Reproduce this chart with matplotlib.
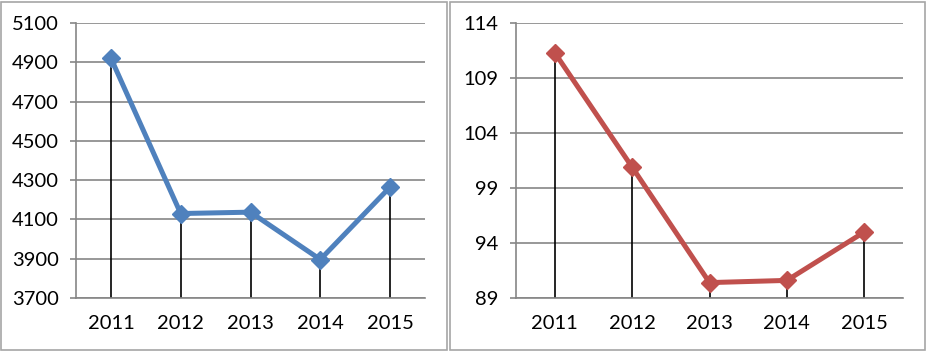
import matplotlib.pyplot as plt
from matplotlib.patches import Rectangle

years = ['2011', '2012', '2013', '2014', '2015']
left_vals = [4921, 4130, 4137, 3896, 4265]
right_vals = [111.3, 100.9, 90.4, 90.6, 95.0]

left_ticks = [3700, 3900, 4100, 4300, 4500, 4700, 4900, 5100]
right_ticks = [89, 94, 99, 104, 109, 114]

plt.rcParams['font.family'] = ['Lato', 'DejaVu Sans']

fig = plt.figure(figsize=(9.27, 3.51), dpi=100)

# panel borders
fig.patches.append(Rectangle((0.5/927, 1/351), 446/927, 348/351, transform=fig.transFigure,
                             fill=False, edgecolor='#a6a6a6', lw=1.2))
fig.patches.append(Rectangle((450/927, 1/351), 475/927, 348/351, transform=fig.transFigure,
                             fill=False, edgecolor='#a6a6a6', lw=1.2))

grid_c = '#868686'


def draw(rect, vals, ticks, color):
    ax = fig.add_axes(rect)
    x = list(range(len(years)))
    ax.set_xlim(-0.5, len(years) - 0.5)
    ax.set_ylim(ticks[0], ticks[-1])
    ax.set_yticks(ticks)
    ax.set_xticks(x)
    ax.set_xticklabels(years)
    ax.yaxis.grid(True, color=grid_c, lw=1.2)
    ax.set_axisbelow(True)
    for s in ['top', 'right']:
        ax.spines[s].set_visible(False)
    ax.spines['left'].set_color(grid_c)
    ax.spines['bottom'].set_color(grid_c)
    ax.spines['left'].set_linewidth(1.2)
    ax.spines['bottom'].set_linewidth(1.2)
    ax.tick_params(axis='y', length=4.5, width=1.2, color=grid_c, pad=8, labelsize=14.5)
    ax.tick_params(axis='x', length=0, pad=12, labelsize=14.5)
    ax.vlines(x, ticks[0], vals, color='black', lw=1.2, zorder=2)
    ax.plot(x, vals, color=color, lw=3.6, marker='D', markersize=9, zorder=3, clip_on=False)
    return ax


draw([76/927, 53/351, 349/927, 275/351], left_vals, left_ticks, '#4f81bd')
draw([516/927, 53/351, 387/927, 275/351], right_vals, right_ticks, '#c0504d')

fig.savefig('out.png', dpi=100)
